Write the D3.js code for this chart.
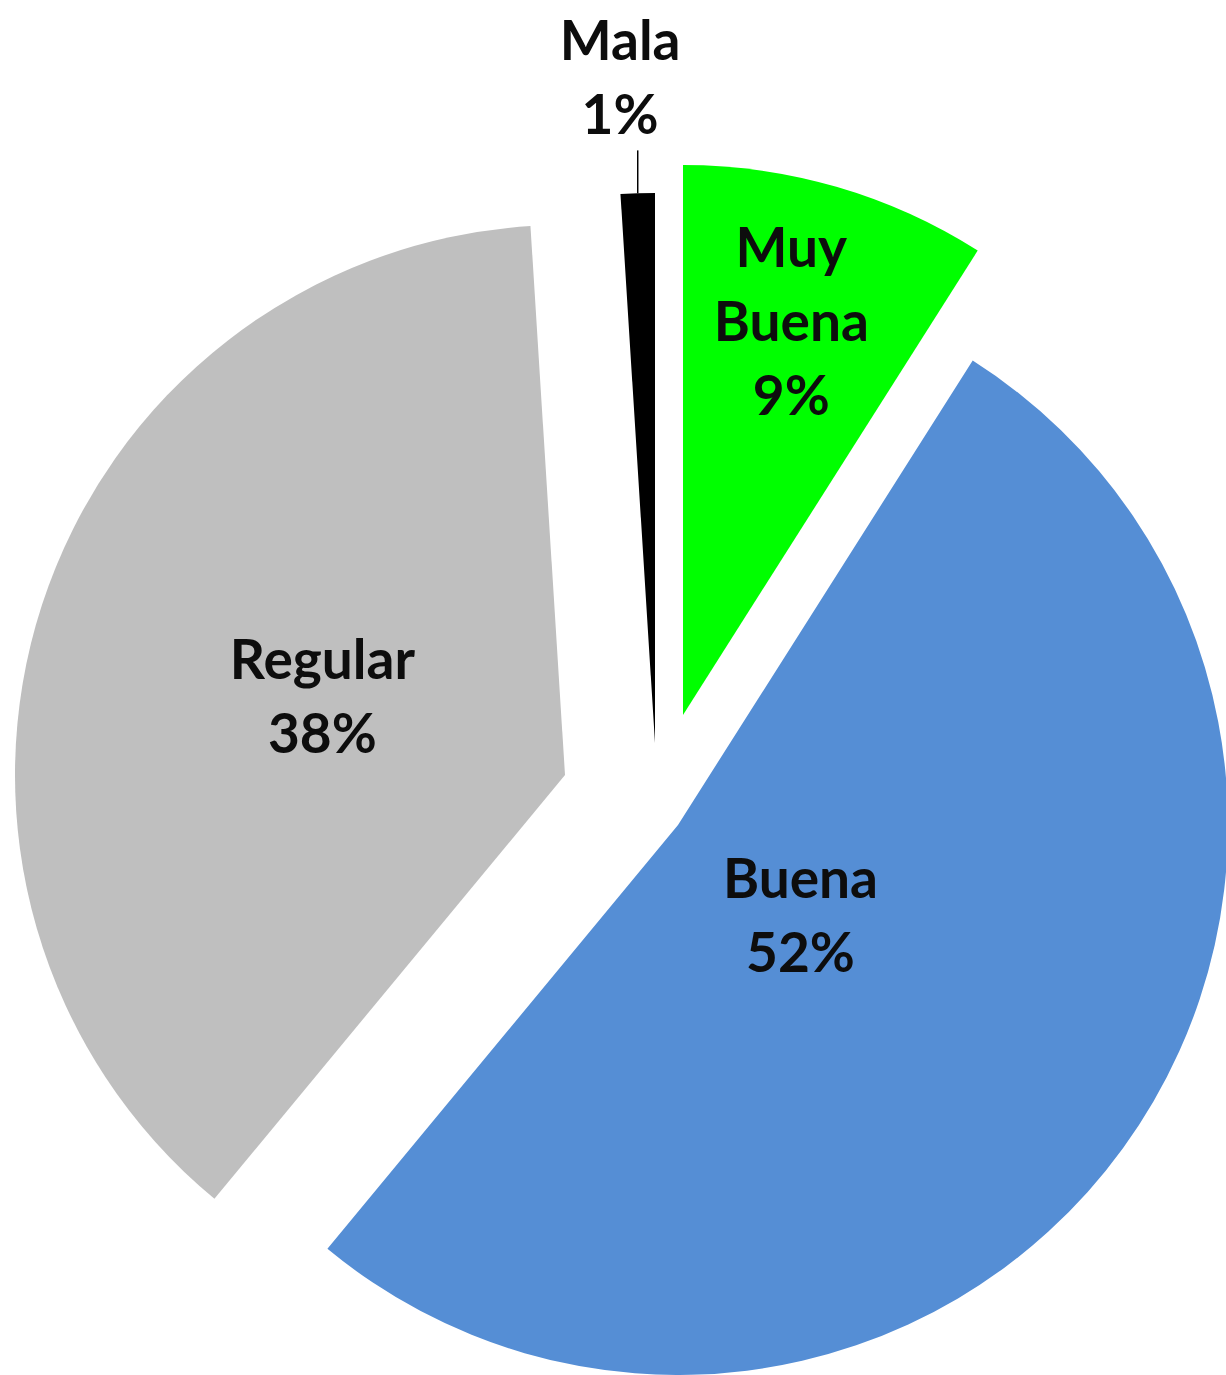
<!DOCTYPE html>
<html>
<head>
<meta charset="utf-8">
<script src="https://cdn.jsdelivr.net/npm/d3@7"></script>
<style>
  html, body { margin: 0; padding: 0; background: #ffffff; }
  svg { display: block; }
</style>
</head>
<body>
<svg id="chart" width="1226" height="1375"></svg>
<script>
// ---- data ----
const categories = ["Muy Buena", "Buena", "Regular", "Mala"];
const values = [9, 52, 38, 1];
const labelLines = [["Muy", "Buena"], ["Buena"], ["Regular"], ["Mala"]];

// ---- style / layout ----
const colors = ["#00FF00", "#558ED5", "#BFBFBF", "#000000"];
const W = 1226, H = 1375;
const center = [640, 785];
const R = 550;
// per-slice explode translation (slices were pulled apart)
const explode = [[43, -70], [38, 40], [-75, -10], [15, -42]];
// label distance from slice apex as fraction of radius
const labelRadius = [0.745, 0.282, 0.46, 1.21];
const labelNudgeX = [-6, -3, -2, -14];
const lineGap = 74, capH = 38;

const svg = d3.select("#chart");
const g = svg.append("g").attr("transform", `translate(${center[0]},${center[1]})`);

const data = categories.map((c, i) => ({ name: c, value: values[i], lines: labelLines[i], i }));
const pie = d3.pie().sort(null).value(d => d.value).startAngle(0).endAngle(2 * Math.PI);
const arcs = pie(data);
const arc = d3.arc().innerRadius(0).outerRadius(R);

const slice = g.selectAll("g.slice").data(arcs).join("g")
  .attr("class", "slice")
  .attr("transform", d => `translate(${explode[d.data.i][0]},${explode[d.data.i][1]})`);

slice.append("path")
  .attr("d", arc)
  .attr("fill", d => colors[d.data.i]);

const total = d3.sum(values);
const fmt = v => Math.round(v / total * 100) + "%";

slice.each(function(d) {
  const i = d.data.i;
  const sel = d3.select(this);
  const mid = (d.startAngle + d.endAngle) / 2;
  const lr = labelRadius[i] * R;
  const cx = Math.sin(mid) * lr + labelNudgeX[i];
  const cy = -Math.cos(mid) * lr;
  const lines = d.data.lines.concat([fmt(d.data.value)]);
  const n = lines.length;
  const firstBase = cy - ((n - 1) * lineGap + capH) / 2 + capH;
  const t = sel.append("text")
    .attr("text-anchor", "middle")
    .attr("font-family", "Lato, 'Open Sans', sans-serif")
    .attr("font-weight", "bold")
    .attr("font-size", 55)
    .attr("fill", "#0d0d0d");
  lines.forEach((ln, k) => {
    t.append("tspan").attr("x", cx).attr("y", firstBase + k * lineGap).text(ln);
  });
  if (labelRadius[i] > 1) {
    // leader line for outside label
    const r0 = R, r1 = R * 1.078;
    sel.append("line")
      .attr("x1", Math.sin(mid) * r0).attr("y1", -Math.cos(mid) * r0)
      .attr("x2", Math.sin(mid) * r0).attr("y2", -Math.cos(mid) * r1)
      .attr("stroke", "#000").attr("stroke-width", 1.5);
  }
});
</script>
</body>
</html>
